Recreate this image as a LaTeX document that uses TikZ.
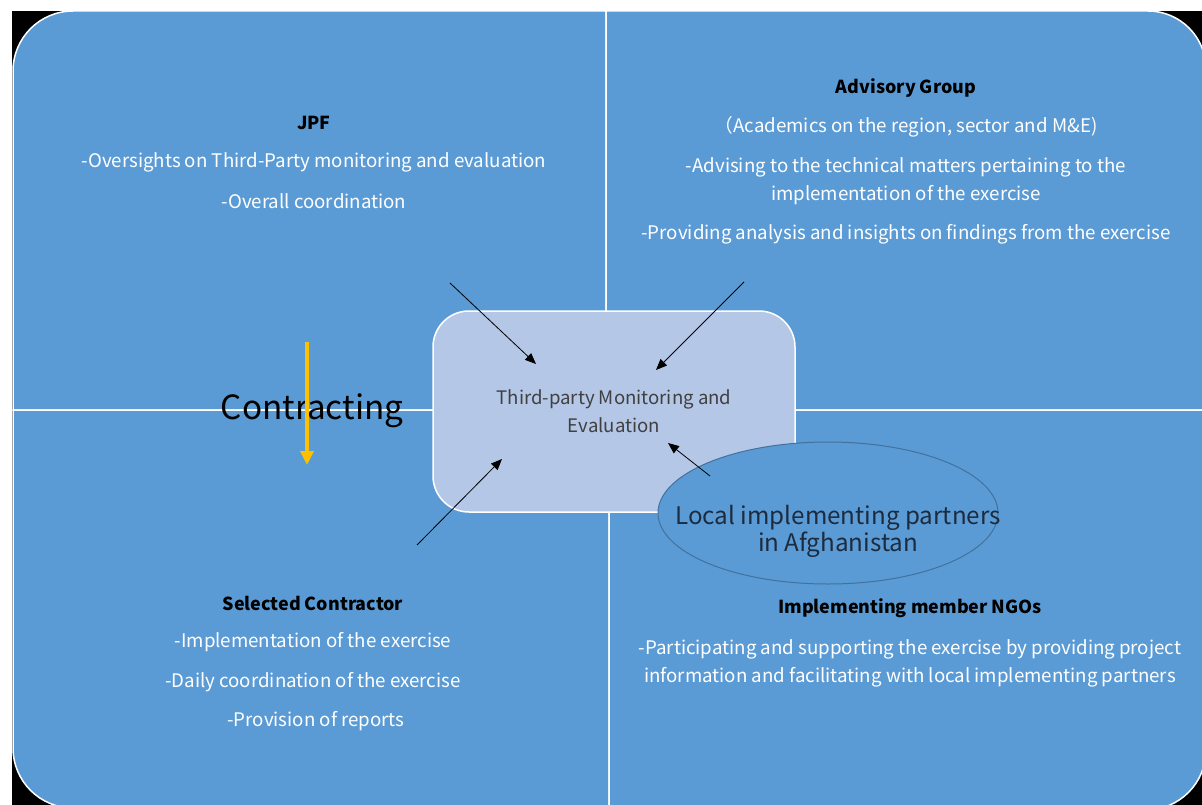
\documentclass[tikz,border=0pt]{standalone}
\usepackage{fontspec}
\setmainfont{Noto Sans CJK JP}
\newfontfamily\headfont{Noto Sans CJK JP}
\usetikzlibrary{arrows.meta,shapes.geometric}
\definecolor{quadblue}{HTML}{5B9BD5}
\definecolor{centerblue}{HTML}{B4C7E7}
\definecolor{ellline}{HTML}{41719C}
\definecolor{centertext}{HTML}{404040}
\definecolor{elltext}{HTML}{1C2B3E}
\definecolor{contractarrow}{HTML}{FFC000}
\tikzset{
  quad/.style={fill=quadblue, draw=white, line width=1.5pt},
  headtxt/.style={font=\headfont\bfseries\fontsize{17.9}{22}\selectfont, text=black, inner sep=0pt},
  bodytxt/.style={font=\fontsize{18.7}{28}\selectfont, text=white, inner sep=0pt, align=center},
  flowarrow/.style={-{Triangle[length=11pt,width=9pt]}, line width=0.8pt, black},
}
\begin{document}
\begin{tikzpicture}[x=1pt,y=1pt]
\useasboundingbox (0,0) rectangle (1202,-805);
\fill[white] (0,0) rectangle (1202,-805);
\fill[black] (12,-11) rectangle (1202,-805);
% quadrants
\path[quad] (606,-410) -- (13,-410) -- (13,-71) arc[start angle=180,end angle=90,radius=60] -- (606,-11) -- cycle;
\path[quad] (606,-11) -- (1148,-11) arc[start angle=90,end angle=0,radius=58] -- (1206,-410) -- (606,-410) -- cycle;
\path[quad] (13,-410) -- (13,-748) arc[start angle=180,end angle=270,radius=60] -- (609,-808) -- (609,-410) -- cycle;
\path[quad] (609,-410) -- (609,-810) -- (1146,-810) arc[start angle=270,end angle=360,radius=60] -- (1206,-410) -- cycle;
% contracting label
\node[font=\fontsize{33.3}{36}\selectfont, text=black, inner sep=0pt] (contracting) at (312,-411) {Contracting};
\coordinate (ctop) at (307,-342);
\coordinate (cbot) at (307,-465);
\draw[-{Triangle[length=14pt,width=13pt]}, line width=3.5pt, contractarrow] (ctop) -- (cbot);
% centre
\node[draw=white, line width=1.5pt, fill=centerblue, rounded corners=36pt, minimum width=362pt, minimum height=201pt, inner sep=0pt] (center) at (614,-411.5) {};
\node[font=\fontsize{18.6}{28}\selectfont, text=centertext, align=center, inner sep=0pt] (centertext) at (614,-411) {Third-party Monitoring and\\Evaluation};
% arrows
\coordinate (jpfstart) at (450,-283);
\coordinate (jpfend) at (536,-364);
\coordinate (advstart) at (744,-282);
\coordinate (advend) at (656,-370);
\coordinate (constart) at (417,-545);
\coordinate (conend) at (502,-459);
\draw[flowarrow] (jpfstart) -- (jpfend);
\draw[flowarrow] (advstart) -- (advend);
\draw[flowarrow] (constart) -- (conend);
% ellipse
\node[ellipse, fill=quadblue, draw=ellline, line width=1pt, minimum width=340pt, minimum height=142pt, inner sep=0pt] (local) at (828,-513) {};
\node[font=\fontsize{24.2}{27}\selectfont, text=elltext, align=center, inner sep=0pt] (localtext) at (838,-531) {Local implementing partners\\in Afghanistan};
\coordinate (locstart) at (710,-476);
\coordinate (locend) at (668,-443);
\draw[flowarrow] (locstart) -- (locend);
% JPF
\node[headtxt] (jpfhead) at (314,-123) {JPF};
\node[bodytxt] (jpf1) at (314,-162) {-Oversights on Third-Party monitoring and evaluation};
\node[bodytxt] (jpf2) at (314,-201) {-Overall coordination};
% Advisory
\node[headtxt] (advhead) at (906,-88) {Advisory Group};
\node[bodytxt] (adv1) at (906,-127) {（Academics on the region, sector and M\&E)};
\node[bodytxt] (adv2) at (906,-181) {-Advising to the technical matters pertaining to the\\implementation of the exercise};
\node[bodytxt] (adv3) at (906,-234) {-Providing analysis and insights on findings from the exercise};
% Contractor
\node[headtxt] (conhead) at (313,-603) {Selected Contractor};
\node[bodytxt] (con1) at (313,-642) {-Implementation of the exercise};
\node[bodytxt] (con2) at (313,-682) {-Daily coordination of the exercise};
\node[bodytxt] (con3) at (316,-721) {-Provision of reports};
% NGOs
\node[headtxt] (ngohead) at (910,-608) {Implementing member NGOs};
\node[bodytxt] (ngo1) at (910,-663) {-Participating and supporting the exercise by providing project\\information and facilitating with local implementing partners};
\end{tikzpicture}
\end{document}
